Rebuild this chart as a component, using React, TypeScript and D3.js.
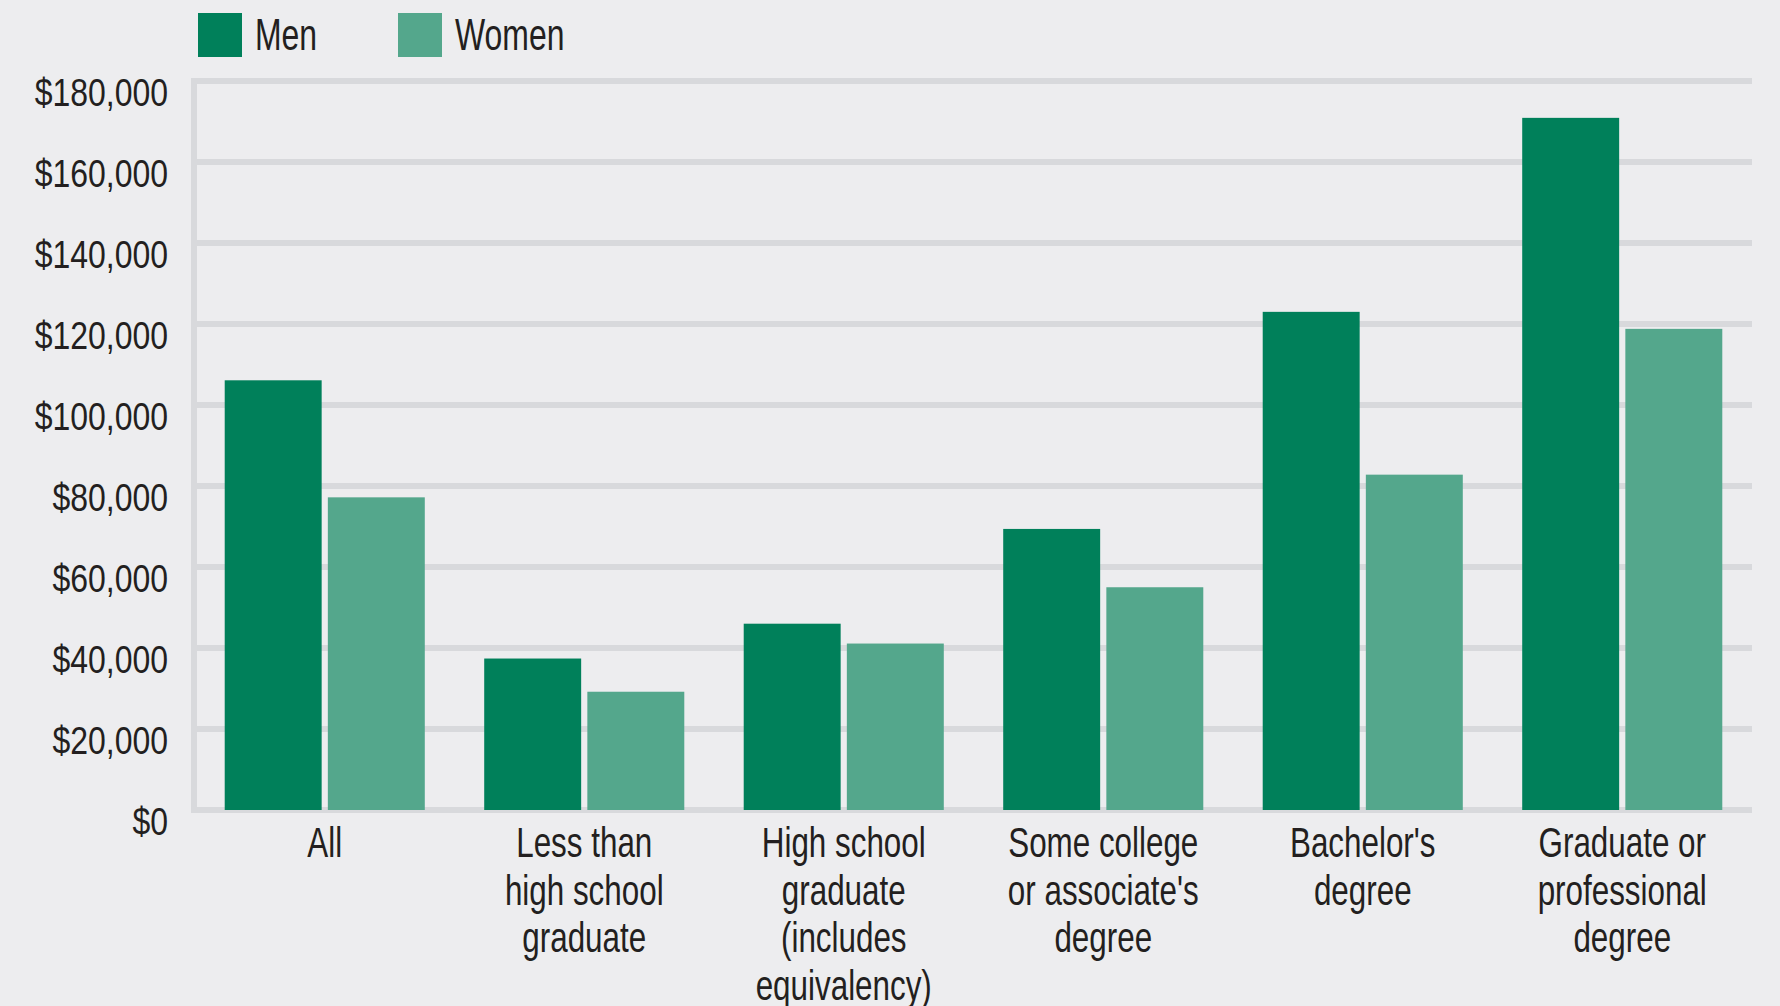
import React from "react";
import * as d3 from "d3";

// Average earnings by educational attainment and sex
const categories: string[][] = [
  ["All"],
  ["Less than", "high school", "graduate"],
  ["High school", "graduate", "(includes", "equivalency)"],
  ["Some college", "or associate's", "degree"],
  ["Bachelor's", "degree"],
  ["Graduate or", "professional", "degree"],
];
const seriesNames = ["Men", "Women"];
const menValues = [106100, 37400, 46000, 69400, 123000, 170900];
const womenValues = [77200, 29200, 41100, 55000, 82800, 118800];
const yTicks = [0, 20000, 40000, 60000, 80000, 100000, 120000, 140000, 160000, 180000];

const W = 1780;
const H = 1006;
const BG = "#ededef";
const GRID = "#d8d9dc";
const TEXT = "#231f20";
const COLORS = ["#00805a", "#54a78c"];
const FONT = "'Liberation Sans', Arial, sans-serif";

// Text squeezed horizontally to give a condensed face
function CondText({
  x,
  y,
  sx,
  size,
  anchor,
  children,
}: {
  x: number;
  y: number;
  sx: number;
  size: number;
  anchor: "start" | "middle" | "end";
  children: React.ReactNode;
}) {
  return (
    <g transform={`translate(${x},${y}) scale(${sx},1)`}>
      <text x={0} y={0} textAnchor={anchor} fontSize={size} fill={TEXT}>
        {children}
      </text>
    </g>
  );
}

export default function App() {
  const plotLeft = 195;
  const plotRight = 1752;
  const plotTop = 81;
  const plotBottom = 810;

  const y = d3.scaleLinear().domain([0, 180000]).range([plotBottom, plotTop]);
  const x0 = d3
    .scaleBand<number>()
    .domain(d3.range(categories.length))
    .range([plotLeft, plotRight])
    .paddingInner(0.229)
    .paddingOuter(0.1145);
  const x1 = d3
    .scaleBand<string>()
    .domain(seriesNames)
    .range([0, x0.bandwidth()])
    .paddingInner(0.06);
  const color = d3.scaleOrdinal<string, string>().domain(seriesNames).range(COLORS);
  const fmt = d3.format("$,");

  const series = [menValues, womenValues];

  return (
    <svg
      width={W}
      height={H}
      style={{ position: "absolute", left: 0, top: 0, display: "block" }}
      fontFamily={FONT}
    >
      <rect x={0} y={0} width={W} height={H} fill={BG} />

      {/* gridlines */}
      {yTicks.map((t) => (
        <line
          key={"g" + t}
          x1={plotLeft - 3}
          x2={plotRight}
          y1={y(t)}
          y2={y(t)}
          stroke={GRID}
          strokeWidth={6}
        />
      ))}
      {/* left axis rule */}
      <line
        x1={plotLeft - 1}
        x2={plotLeft - 1}
        y1={plotTop - 3}
        y2={plotBottom + 3}
        stroke={GRID}
        strokeWidth={6}
      />

      {/* y tick labels */}
      {yTicks.map((t) => (
        <CondText key={"t" + t} x={168} y={y(t) + 25} sx={0.82} size={39} anchor="end">
          {fmt(t)}
        </CondText>
      ))}

      {/* bars */}
      {categories.map((_, i) => (
        <g key={"b" + i} transform={`translate(${x0(i)},0)`}>
          {seriesNames.map((s, j) => (
            <rect
              key={s}
              x={x1(s)}
              y={y(series[j][i])}
              width={x1.bandwidth()}
              height={plotBottom - y(series[j][i])}
              fill={color(s)}
            />
          ))}
        </g>
      ))}

      {/* category labels */}
      {categories.map((lines, i) => {
        const cx = (x0(i) as number) + x0.bandwidth() / 2;
        return (
          <g key={"l" + i}>
            {lines.map((ln, k) => (
              <CondText key={k} x={cx} y={857 + k * 47.5} sx={0.73} size={43} anchor="middle">
                {ln}
              </CondText>
            ))}
          </g>
        );
      })}

      {/* legend */}
      {seriesNames.map((s, j) => {
        const lx = j === 0 ? 198 : 398;
        return (
          <g key={"lg" + s}>
            <rect x={lx} y={13} width={44} height={44} fill={color(s)} />
            <CondText x={lx + 57} y={50} sx={0.71} size={45} anchor="start">
              {s}
            </CondText>
          </g>
        );
      })}
    </svg>
  );
}
